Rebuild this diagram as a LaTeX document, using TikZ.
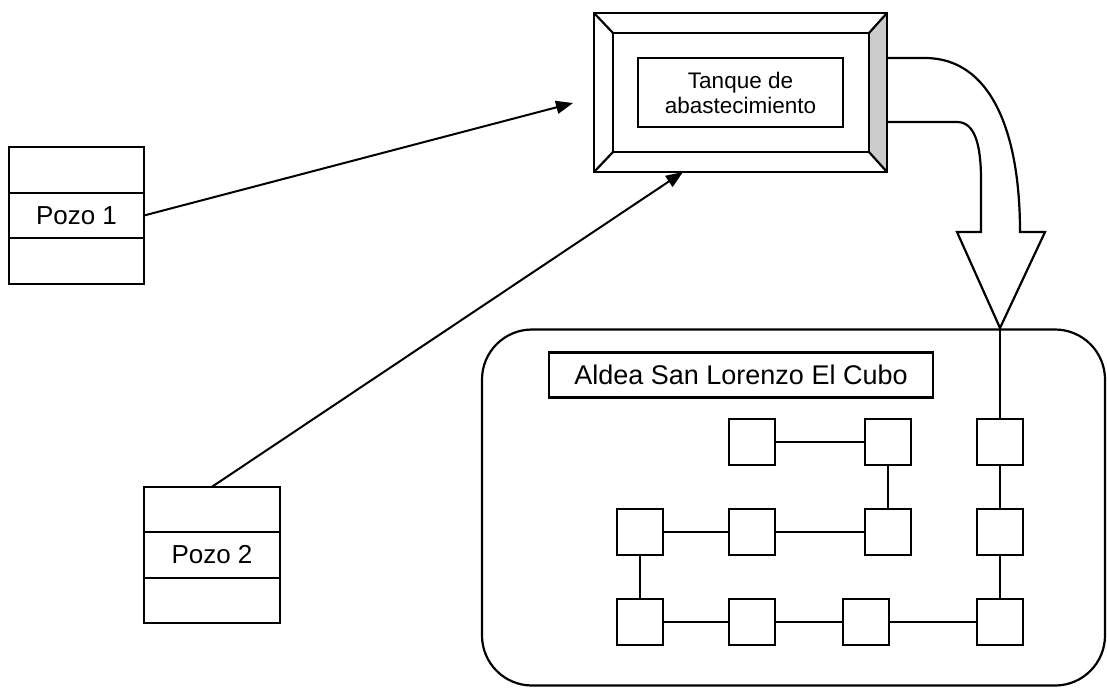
\documentclass[tikz,border=0pt]{standalone}
\usepackage{fontspec}
\setmainfont{Liberation Sans}
\usetikzlibrary{arrows.meta}
\begin{document}
\begin{tikzpicture}[x=1pt,y=-1pt,
  line width=2.2pt,
  box/.style={draw,rectangle,inner sep=0pt,outer sep=0pt,line width=2.2pt},
  sq/.style={box,minimum width=46pt,minimum height=46pt},
  pozorow/.style={box,minimum width=135pt,minimum height=45.5pt,font=\fontsize{26}{30}\selectfont},
  link/.style={line width=2.2pt},
  feed/.style={line width=2pt,-{Triangle[length=17pt,width=13pt]}}
]
\useasboundingbox (0,0) rectangle (1107,689);

% Tank with bevelled frame
\node[box,minimum width=293pt,minimum height=159pt] (tank) at (740.5,92.5) {};
\fill[gray!40] (869,33) -- (887,13) -- (887,172) -- (869,152) -- cycle;
\draw (594,13) rectangle (887,172);
\draw (613,33) rectangle (869,152);
\draw (594,13) -- (613,33) (887,13) -- (869,33) (594,172) -- (613,152) (887,172) -- (869,152);
\node[box,minimum width=205pt,minimum height=69pt,align=center,
      font=\fontsize{22.5}{25}\selectfont] (tanktext) at (740.5,92.5) {Tanque de\\abastecimiento};

% Pozo 1
\node[pozorow] (p1top) at (76.5,170) {};
\node[pozorow,anchor=north] (p1) at (p1top.south) {Pozo 1};
\node[pozorow,anchor=north] (p1bot) at (p1.south) {};

% Pozo 2
\node[pozorow,minimum width=136pt] (p2top) at (212,509.5) {};
\node[pozorow,minimum width=136pt,anchor=north] (p2) at (p2top.south) {Pozo 2};
\node[pozorow,minimum width=136pt,anchor=north] (p2bot) at (p2.south) {};

% feed lines
\coordinate (t1) at (573,103);
\coordinate (t2) at (683,172);
\draw[feed] (p1.east) -- (t1);
\draw[feed] (p2top.north) -- (t2);

% big curved arrow
\coordinate (tip) at (1000,328);
\draw[line width=2.2pt,line join=miter] (887,58) -- (925,58) .. controls (990,58) and (1020,130) .. (1020,232)
  -- (1045,232) -- (tip) -- (957,232) -- (981,232) -- (981,180)
  .. controls (981,145) and (975,122) .. (957,122) -- (887,122);

% village
\node[box,rounded corners=50pt,minimum width=623pt,minimum height=356pt] (village) at (793.5,507.5) {};
\node[box,minimum width=384pt,minimum height=45pt,font=\fontsize{27}{30}\selectfont] (label) at (741,375) {Aldea San Lorenzo El Cubo};

% houses
\node[sq] (b1) at (752,442) {};
\node[sq] (d1) at (888,442) {};
\node[sq] (e1) at (1000,442) {};
\node[sq] (a2) at (640,532) {};
\node[sq] (b2) at (752,532) {};
\node[sq] (d2) at (888,532) {};
\node[sq] (e2) at (1000,532) {};
\node[sq] (a3) at (640,622) {};
\node[sq] (b3) at (752,622) {};
\node[sq] (c3) at (866,622) {};
\node[sq] (e3) at (1000,622) {};

\draw[link] (tip) -- (e1);
\draw[link] (b1) -- (d1);
\draw[link] (d1) -- (d2);
\draw[link] (e1) -- (e2);
\draw[link] (e2) -- (e3);
\draw[link] (a2) -- (b2);
\draw[link] (b2) -- (d2);
\draw[link] (a2) -- (a3);
\draw[link] (a3) -- (b3);
\draw[link] (b3) -- (c3);
\draw[link] (c3) -- (e3);
\end{tikzpicture}
\end{document}
